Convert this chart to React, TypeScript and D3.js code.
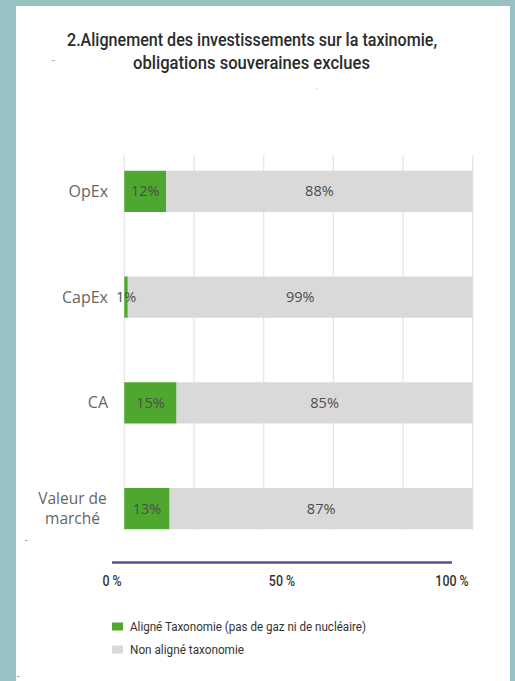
import React from "react";
import * as d3 from "d3";

const categories = ["OpEx", "CapEx", "CA", "Valeur de marché"];
const aligned = [12, 1, 15, 13];
const notAligned = [88, 99, 85, 87];
const gridTicks = [0, 20, 40, 60, 80, 100];
const axisTicks = [0, 50, 100];
const legendLabels = ["Aligné Taxonomie (pas de gaz ni de nucléaire)", "Non aligné taxonomie"];
const titleLines = ["2.Alignement des investissements sur la taxinomie,", "obligations souveraines exclues"];

const W = 515;
const H = 681;
const GREEN = "#4ea72e";
const GREY = "#d9d9d9";
const TEAL = "#97c1c3";
const COND = "Roboto, 'Liberation Sans', sans-serif";
const SANS = "'Open Sans', 'Noto Sans', sans-serif";

function CondText(props: {
  x: number;
  y: number;
  sx: number;
  anchor?: "start" | "middle" | "end";
  size: number;
  fill: string;
  weight?: number;
  children: React.ReactNode;
}) {
  return (
    <g transform={`translate(${props.x},${props.y}) scale(${props.sx},1)`}>
      <text
        x={0}
        y={0}
        textAnchor={props.anchor || "start"}
        fontFamily={COND}
        fontSize={props.size}
        fontWeight={props.weight || 400}
        fill={props.fill}
      >
        {props.children}
      </text>
    </g>
  );
}

export default function App() {
  const x = d3.scaleLinear().domain([0, 100]).range([124.3, 472.7]);
  const y = d3.scaleBand().domain(categories).range([138.5, 561.5]).paddingInner(0.61).paddingOuter(0.305);
  const xAxis = d3.scaleLinear().domain([0, 100]).range([112, 452]);
  const bh = y.bandwidth();

  return (
    <svg width={W} height={H} style={{ position: "absolute", left: 0, top: 0 }}>
      <rect x={0} y={0} width={W} height={H} fill={TEAL} />
      <rect x={16} y={6} width={494} height={H - 6} fill="#ffffff" />

      {titleLines.map((t, i) => (
        <text
          key={t}
          x={i === 0 ? 67 : 133}
          y={i === 0 ? 46 : 69}
          fontFamily={COND}
          fontSize={18}
          fontWeight={500}
          fill="#2b2b2b"
          textLength={i === 0 ? 370 : 237}
          lengthAdjust="spacingAndGlyphs"
        >
          {t}
        </text>
      ))}
      <text x={52} y={62} fontSize={8} fill="#333" fontFamily={SANS}>-</text>
      <text x={316} y={90} fontSize={6} fill="#999" fontFamily={SANS}>-</text>
      <text x={25} y={542} fontSize={8} fill="#333" fontFamily={SANS}>-</text>
      <text x={17} y={678} fontSize={8} fill="#333" fontFamily={SANS}>-</text>

      {gridTicks.map((t) => (
        <line key={t} x1={x(t)} x2={x(t)} y1={155} y2={530} stroke="#e6e6e6" strokeWidth={1.3} />
      ))}

      {categories.map((c, i) => {
        const yy = y(c)!;
        const cy = yy + bh / 2;
        return (
          <g key={c}>
            <rect x={x(0)} y={yy} width={x(aligned[i]) - x(0)} height={bh} fill={GREEN} />
            <rect x={x(aligned[i])} y={yy} width={x(aligned[i] + notAligned[i]) - x(aligned[i])} height={bh} fill={GREY} />
            <text
              x={(x(0) + x(aligned[i])) / 2}
              y={cy}
              dy="0.35em"
              textAnchor="middle"
              fontFamily={SANS}
              fontSize={14.5}
              fill="#4d4d4d"
            >
              {aligned[i]}%
            </text>
            <text
              x={(x(aligned[i]) + x(aligned[i] + notAligned[i])) / 2}
              y={cy}
              dy="0.35em"
              textAnchor="middle"
              fontFamily={SANS}
              fontSize={14.5}
              fill="#4d4d4d"
            >
              {notAligned[i]}%
            </text>
            {c === "Valeur de marché" ? (
              <g>
                <text x={72.5} y={cy - 5} textAnchor="middle" fontFamily={SANS} fontSize={15.5} fill="#666">
                  Valeur de
                </text>
                <text x={72.5} y={cy + 15} textAnchor="middle" fontFamily={SANS} fontSize={15.5} fill="#666">
                  marché
                </text>
              </g>
            ) : (
              <text x={108} y={cy} dy="0.35em" textAnchor="end" fontFamily={SANS} fontSize={16} fill="#666">
                {c}
              </text>
            )}
          </g>
        );
      })}

      <line x1={xAxis(0)} x2={xAxis(100)} y1={562.5} y2={562.5} stroke="#5b4f9e" strokeWidth={2.5} />
      {axisTicks.map((t) => (
        <CondText key={t} x={xAxis(t)} y={586} sx={0.8} anchor="middle" size={15.5} weight={500} fill="#333">
          {t} %
        </CondText>
      ))}

      {legendLabels.map((l, i) => (
        <g key={l}>
          <rect x={112} y={i === 0 ? 622.5 : 645.5} width={11} height={8} fill={i === 0 ? GREEN : GREY} />
          <text
            x={130}
            y={i === 0 ? 631 : 654}
            fontFamily={COND}
            fontSize={12.5}
            fill="#333"
            textLength={i === 0 ? 236 : 114}
            lengthAdjust="spacingAndGlyphs"
          >
            {l}
          </text>
        </g>
      ))}
    </svg>
  );
}
